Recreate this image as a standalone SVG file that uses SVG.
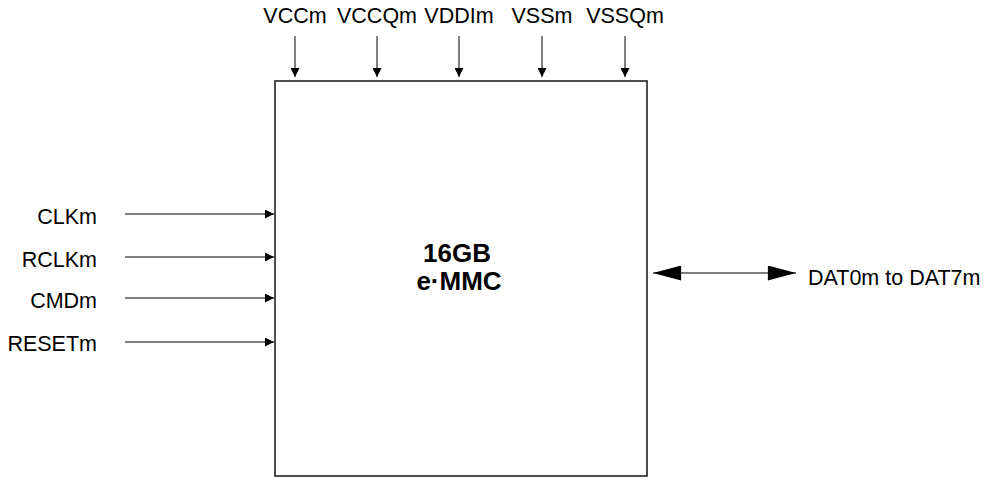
<svg xmlns="http://www.w3.org/2000/svg" width="984" height="480" viewBox="0 0 984 480">
<defs>
<marker id="a" viewBox="0 0 10 10" refX="10" refY="5" markerWidth="9" markerHeight="9" markerUnits="userSpaceOnUse" orient="auto"><path d="M0,0 L10,5 L0,10 Z" fill="#000"/></marker>
<marker id="big" viewBox="0 0 30 16" refX="30" refY="8" markerWidth="29" markerHeight="15" markerUnits="userSpaceOnUse" orient="auto-start-reverse"><path d="M0,0 L30,8 L0,16 Z" fill="#000"/></marker>
</defs>
<style>
text{font-family:"Liberation Sans",Arial,sans-serif;font-size:21.5px;fill:#000}
.c{text-anchor:middle}
.r{text-anchor:end}
.b{font-weight:bold;font-size:26px}
.w{stroke:#000;stroke-width:1;fill:none}
</style>
<rect width="984" height="480" fill="#fff"/>
<g id="emmc">
<rect x="275" y="81" width="372" height="395" fill="#fff" stroke="#222" stroke-width="1.6"/>
<text class="c b" x="457" y="262">16GB</text>
<text class="c b" x="459" y="290">e·MMC</text>
</g>
<g id="labels">
<text class="c" x="295" y="23">VCCm</text>
<text class="c" x="377" y="23">VCCQm</text>
<text class="c" x="459" y="23">VDDIm</text>
<text class="c" x="542" y="23">VSSm</text>
<text class="c" x="625" y="23">VSSQm</text>
<text class="r" x="97" y="224">CLKm</text>
<text class="r" x="97" y="267">RCLKm</text>
<text class="r" x="97" y="308">CMDm</text>
<text class="r" x="97" y="351">RESETm</text>
<text x="808" y="285">DAT0m to DAT7m</text>
</g>
<g id="connectors">
<line class="w" x1="295" y1="36" x2="295" y2="77" marker-end="url(#a)"/>
<line class="w" x1="377" y1="36" x2="377" y2="77" marker-end="url(#a)"/>
<line class="w" x1="459" y1="36" x2="459" y2="77" marker-end="url(#a)"/>
<line class="w" x1="542" y1="36" x2="542" y2="77" marker-end="url(#a)"/>
<line class="w" x1="625" y1="36" x2="625" y2="77" marker-end="url(#a)"/>
<line class="w" x1="125" y1="214" x2="274" y2="214" marker-end="url(#a)"/>
<line class="w" x1="125" y1="257" x2="274" y2="257" marker-end="url(#a)"/>
<line class="w" x1="125" y1="298" x2="274" y2="298" marker-end="url(#a)"/>
<line class="w" x1="125" y1="342" x2="274" y2="342" marker-end="url(#a)"/>
<line class="w" x1="653" y1="273" x2="796" y2="273" marker-start="url(#big)" marker-end="url(#big)"/>
</g>
</svg>
